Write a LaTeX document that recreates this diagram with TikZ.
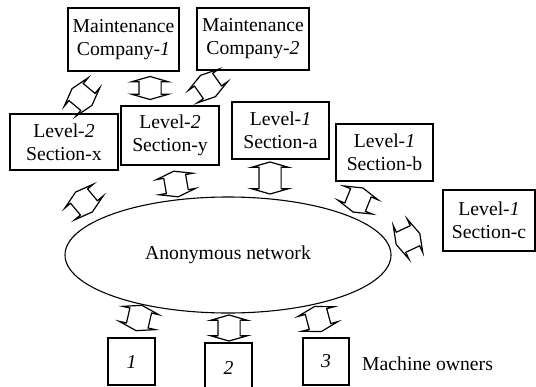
\documentclass[tikz,border=0pt]{standalone}
\usepackage{fontspec}
\setmainfont{Liberation Serif}
\usetikzlibrary{shapes.geometric,shapes.arrows}
\begin{document}
\begin{tikzpicture}[x=1pt,y=1pt,
  every node/.style={font=\fontsize{19.7}{23}\selectfont},
  box/.style={draw, line width=1.1pt, align=center, inner sep=0pt},
  dbl/.style={double arrow, draw, line width=1.2pt, inner xsep=0pt, inner ysep=10.5pt,
    minimum width=0pt, minimum height=26pt,
    double arrow head extend=7.5pt, double arrow tip angle=148}]
\useasboundingbox (0,0) rectangle (536,-386);

% maintenance companies
\node[box, minimum width=111pt, minimum height=63pt] (mc1) at (123.5,-39.5) {Maintenance\\Company-\textit{1}};
\node[box, minimum width=112pt, minimum height=62pt] (mc2) at (253,-39) {Maintenance\\Company-\textit{2}};

% sections
\node[box, minimum width=108pt, minimum height=56pt] (lx) at (64,-142) {Level-\textit{2}\\Section-x};
\node[box, minimum width=98pt, minimum height=59pt] (ly) at (170,-135.5) {Level-\textit{2}\\Section-y};
\node[box, minimum width=97pt, minimum height=57pt] (la) at (280.5,-130.5) {Level-\textit{1}\\Section-a};
\node[box, minimum width=97pt, minimum height=57pt] (lb) at (384.5,-152.5) {Level-\textit{1}\\Section-b};
\node[box, minimum width=92pt, minimum height=61pt] (lc) at (489,-220.5) {Level-\textit{1}\\Section-c};

% network
\node[draw, ellipse, line width=1.1pt, minimum width=326pt, minimum height=116pt, inner sep=0pt] (net) at (228,-255) {Anonymous network};

% machine owners
\node[box, minimum width=47pt, minimum height=47pt] (o1) at (131.5,-361.5) {\textit{1}};
\node[box, minimum width=47pt, minimum height=49pt] (o2) at (228.5,-367.5) {\textit{2}};
\node[box, minimum width=46pt, minimum height=47pt] (o3) at (326,-361.5) {\textit{3}};
\node[anchor=west, inner sep=0pt] (own) at (362,-364) {Machine owners};

% two-way links
\node[dbl, rotate=-40] (a1) at (82,-97) {};
\node[dbl, rotate=90, minimum height=23pt] (a2) at (150,-88) {};
\node[dbl, rotate=-55] (a3) at (208,-86) {};
\node[dbl, rotate=130] (a4) at (84,-202) {};
\node[dbl, rotate=100] (a5) at (176,-184) {};
\node[dbl, rotate=90, minimum height=32pt] (a6) at (270,-178) {};
\node[dbl, rotate=68] (a7) at (358,-200) {};
\node[dbl, rotate=25] (a8) at (408,-239) {};
\node[dbl, rotate=77] (a9) at (139,-318) {};
\node[dbl, rotate=90] (a10) at (229,-328) {};
\node[dbl, rotate=105] (a11) at (318,-319) {};
\end{tikzpicture}
\end{document}
